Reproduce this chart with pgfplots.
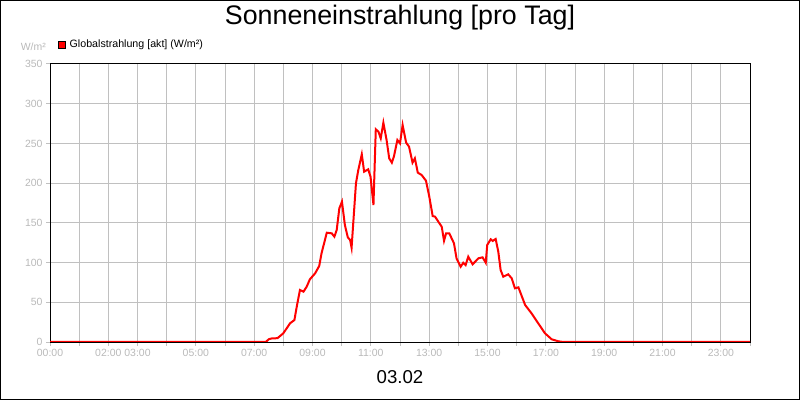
\documentclass[border=0pt]{standalone}
\usepackage{pgfplots}
\pgfplotsset{compat=1.18}
\usepackage{fontspec}
\setmainfont{Liberation Sans}
\definecolor{tickgray}{RGB}{185,185,185}
\definecolor{gridgray}{RGB}{192,192,192}
\begin{document}
\begin{tikzpicture}
\useasboundingbox (0,0) rectangle (800bp,400bp);
\draw[line width=1bp] (0.5bp,0.5bp) rectangle (799.5bp,399.5bp);
\begin{axis}[
  at={(50bp,58bp)}, anchor=south west,
  scale only axis, width=700bp, height=278bp,
  xmin=0, xmax=24, ymin=0, ymax=350,
  xtick={0,...,24},
  xticklabels={00:00,,02:00,03:00,,05:00,,07:00,,09:00,,11:00,,13:00,,15:00,,17:00,,19:00,,21:00,,23:00,},
  ytick={0,50,...,350},
  tick align=outside, xtick pos=bottom, ytick pos=left,
  major tick length=4bp,
  tick style={gridgray, line width=1bp},
  grid=major, grid style={gridgray, line width=1bp},
  axis line style={black, line width=1bp},
  ticklabel style={font=\fontsize{10.5}{12}\selectfont, text=tickgray},
  /pgf/number format/assume math mode=true,
  title={Sonneneinstrahlung [pro Tag]},
  title style={at={(0.5,1.134)}, anchor=base, yshift=-4bp, font=\fontsize{26.9}{30}\selectfont},
  xlabel={03.02},
  xlabel style={at={(0.5,-0.1486)}, anchor=base, font=\fontsize{18.7}{22}\selectfont},
  ylabel={W/m²},
  ylabel style={at={(-0.0239,1.054)}, rotate=-90, anchor=base, yshift=-2bp, font=\fontsize{10.5}{12}\selectfont, text=tickgray},
  legend style={at={(0.011,1.0705)}, anchor=west, draw=none, fill=none, inner sep=0pt,
    font=\fontsize{10.7}{12}\selectfont, nodes={inner sep=1bp},
    /tikz/every odd column/.style={column sep=3bp}},
  legend image code/.code={\draw[fill=red, draw=black, line width=0.8bp] (0bp,-3.5bp) rectangle (7bp,3.5bp);},
]
\addplot[red, line width=2bp] coordinates {
(0,0) (7.40,0) (7.50,3.5) (7.60,4.5) (7.80,4.8) (8.00,11) (8.23,23.5) (8.38,27.7)
(8.46,44.5) (8.57,65.5) (8.69,63.3) (8.80,69.6) (8.91,78.9) (9.09,86.5) (9.23,95.7)
(9.31,111.7) (9.49,137.6) (9.66,136.8) (9.75,132.6) (9.83,141) (9.92,168.3) (10.01,176.7)
(10.11,147.3) (10.21,131.8) (10.29,128.4) (10.34,118.7) (10.49,199.8) (10.57,216.5)
(10.69,236.3) (10.77,214.4) (10.91,217.4) (10.99,208) (11.09,172.5) (11.17,267.8)
(11.26,264.8) (11.34,256.4) (11.43,276.1) (11.54,254.3) (11.63,231.2) (11.72,225.8)
(11.79,233.3) (11.91,254.3) (12.00,250.1) (12.09,273.2) (12.21,251) (12.31,245.9)
(12.43,225.8) (12.51,231.2) (12.61,213.2) (12.74,210.3) (12.89,203.1) (13.00,183.8)
(13.12,158.6) (13.20,157.8) (13.35,149.5) (13.43,145.2) (13.51,127.5) (13.58,136.8)
(13.69,136.8) (13.85,124.3) (13.94,105) (14.08,94.8) (14.17,99.8) (14.25,96.9)
(14.34,107.4) (14.49,97.8) (14.69,105.4) (14.83,106.6) (14.94,99.8) (14.99,122.1)
(15.11,129.3) (15.18,127.2) (15.28,129.7) (15.37,113.7) (15.45,90.6) (15.54,82.2)
(15.71,85.2) (15.83,80.2) (15.94,67.6) (16.06,68.8) (16.29,46.6) (16.51,36.1)
(16.74,23.5) (16.97,11) (17.20,3.4) (17.43,0.9) (17.60,0) (24,0)
};
\addlegendentry{Globalstrahlung [akt] (W/m²)}
\end{axis}
\end{tikzpicture}
\end{document}
